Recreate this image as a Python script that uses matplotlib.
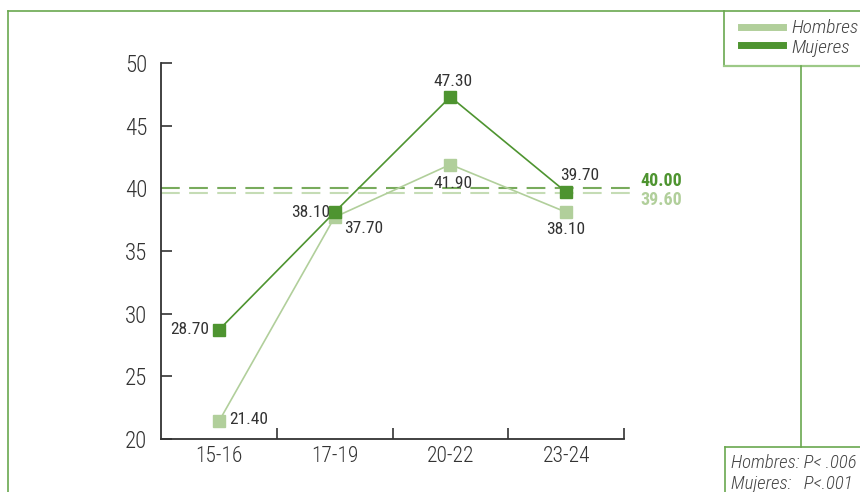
import matplotlib.pyplot as plt
from matplotlib.lines import Line2D

plt.rcParams['font.family'] = ['Roboto Condensed', 'DejaVu Sans']
plt.rcParams['font.weight'] = 300

grupos = ["15-16", "17-19", "20-22", "23-24"]
hombres = [21.4, 37.7, 41.9, 38.1]
mujeres = [28.7, 38.1, 47.3, 39.7]
media_h = 39.6
media_m = 40.0

c_h = "#b1cf9b"
c_m = "#4e9430"
c_borde = "#6aa84f"
c_txt = "#333333"

fig = plt.figure(figsize=(8.6, 4.92), dpi=100)
ax = fig.add_axes([161/860, 1-439/492, (624-161)/860, (439-63)/492])
x = range(len(grupos))

ax.plot(x, hombres, color=c_h, lw=1.2, marker="s", ms=8, zorder=3)
ax.plot(x, mujeres, color=c_m, lw=1.2, marker="s", ms=8, zorder=4)

# medias
ax.plot([-0.5, 3.58], [media_m, media_m], color="#78ab5c", lw=1.5, ls=(0, (9, 4.5)), clip_on=False, zorder=2)
ax.plot([-0.5, 3.58], [media_h, media_h], color="#c5dcb5", lw=1.5, ls=(0, (9, 4.5)), clip_on=False, zorder=2)
ax.text(3.64, media_m + 0.6, f"{media_m:.2f}", color=c_m, fontsize=13, fontweight="bold", va="center")
ax.text(3.64, media_h - 0.55, f"{media_h:.2f}", color=c_h, fontsize=13, fontweight="bold", va="center")

# etiquetas de valores
fs = 12.5
kw = dict(va="center", fontsize=fs, color=c_txt, fontweight="normal")
ax.text(-0.08, mujeres[0], f"{mujeres[0]:.2f}", ha="right", **kw)
ax.text(0.09, hombres[0] + 0.15, f"{hombres[0]:.2f}", ha="left", **kw)
ax.text(0.96, mujeres[1], f"{mujeres[1]:.2f}", ha="right", **kw)
ax.text(1.08, hombres[1] - 0.9, f"{hombres[1]:.2f}", ha="left", **kw)
ax.text(2.02, mujeres[2] + 1.2, f"{mujeres[2]:.2f}", ha="center", **kw)
ax.text(2.02, hombres[2] - 1.5, f"{hombres[2]:.2f}", ha="center", **kw)
ax.text(3.12, mujeres[3] + 1.3, f"{mujeres[3]:.2f}", ha="center", **kw)
ax.text(3.0, hombres[3] - 1.4, f"{hombres[3]:.2f}", ha="center", **kw)

ax.set_xlim(-0.5, 3.5)
ax.set_ylim(20, 50)
ax.set_yticks(range(20, 51, 5))
ax.set_xticks([0.5, 1.5, 2.5, 3.5])
ax.set_xticklabels([])
ax.set_xticks(list(x), minor=True)
ax.set_xticklabels(grupos, minor=True)
ax.tick_params(axis="x", which="major", direction="in", length=8, width=1.2, color=c_txt)
ax.tick_params(axis="x", which="minor", length=0, labelsize=15.5, labelcolor=c_txt, pad=5)
ax.tick_params(axis="y", direction="in", length=8, width=1.2, color=c_txt, labelsize=16.5, labelcolor=c_txt, pad=10)
for s in ["top", "right"]:
    ax.spines[s].set_visible(False)
for s in ["left", "bottom"]:
    ax.spines[s].set_color(c_txt)
    ax.spines[s].set_linewidth(1.3)

# marcos verdes
def fl(x0, y0, x1, y1, c=c_borde, lw=1.2):
    fig.add_artist(Line2D([x0/860, x1/860], [1-y0/492, 1-y1/492], color=c, lw=lw))

fl(8, 11, 860, 11)
fl(8, 11, 8, 492)
fl(724, 11, 724, 66)
fl(724, 66, 860, 66, c="#9cc987", lw=1.6)
fl(801, 66, 801, 447)
fl(725, 447, 860, 447)
fl(725, 447, 725, 492)

# leyenda
fl(741, 27, 783, 27, c=c_h, lw=5)
fl(741, 45, 783, 45, c=c_m, lw=5)
fig.text(791/860, 1-28/492, "Hombres", style="italic", fontsize=14, color="#444444", va="center")
fig.text(791/860, 1-48/492, "Mujeres", style="italic", fontsize=14, color="#444444", va="center")

fig.text(731/860, 1-463/492, "Hombres: P< .006", style="italic", fontsize=13.5, color="#444444", va="center")
fig.text(731/860, 1-484/492, "Mujeres:   P<.001", style="italic", fontsize=13.5, color="#444444", va="center")

fig.savefig("out.png", dpi=100)
